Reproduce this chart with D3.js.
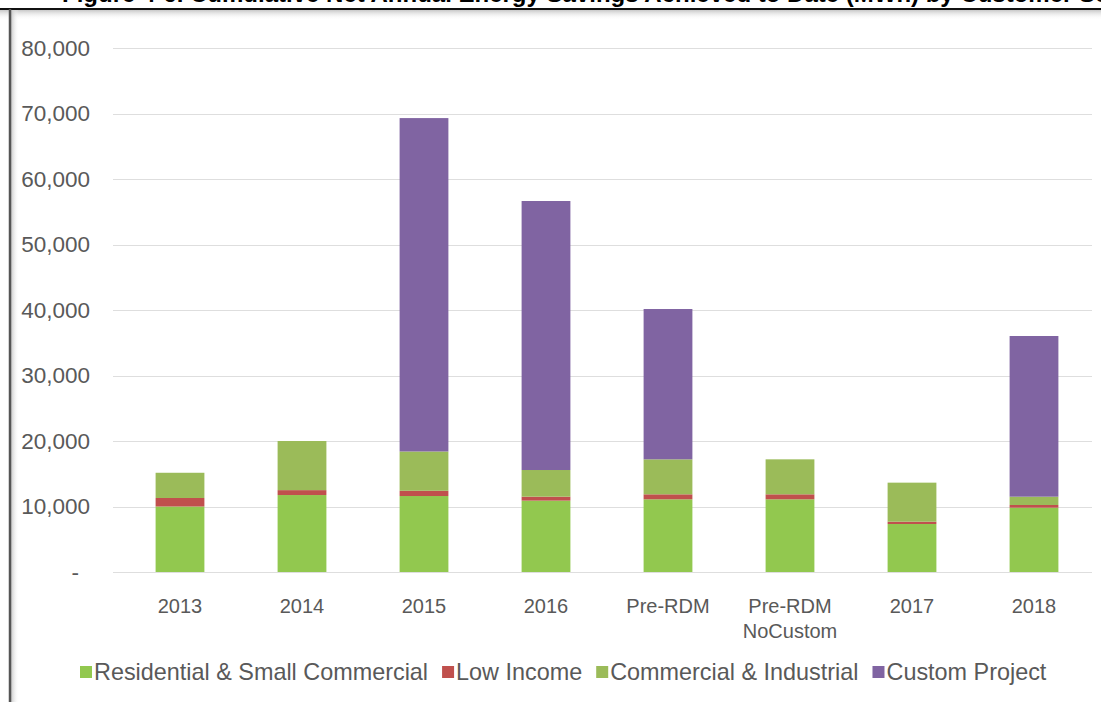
<!DOCTYPE html>
<html>
<head>
<meta charset="utf-8">
<script src="https://cdn.jsdelivr.net/npm/d3@7"></script>
<style>
  body { margin: 0; background: #fff; }
  svg { display: block; }
  text { font-family: "Liberation Sans", Arial, sans-serif; }
</style>
</head>
<body>
<div id="chart"></div>
<script>
const categories = ["2013", "2014", "2015", "2016", "Pre-RDM", "Pre-RDM NoCustom", "2017", "2018"];
const seriesNames = ["Residential & Small Commercial", "Low Income", "Commercial & Industrial", "Custom Project"];
const residential = [10000, 11750, 11600, 10900, 11100, 11100, 7330, 9820];
const lowIncome   = [1300, 750, 800, 600, 760, 760, 350, 410];
const commercial  = [3850, 7500, 6000, 4070, 5340, 5340, 5960, 1270];
const custom      = [0, 0, 50900, 41070, 22950, 0, 0, 24530];
const yTicks = [0, 10000, 20000, 30000, 40000, 50000, 60000, 70000, 80000];
const titleText = "Figure 4-6. Cumulative Net Annual Energy Savings Achieved to Date (MWh) by Customer Segment";

const colors = ["#92c84f", "#c0504d", "#9bbb59", "#8064a2"];

const width = 1101, height = 702;

const svg = d3.select("#chart").append("svg")
    .attr("width", width)
    .attr("height", height);

// frame shading
const defs = svg.append("defs");
const gTop = defs.append("linearGradient").attr("id", "shTop").attr("x1", 0).attr("y1", 0).attr("x2", 0).attr("y2", 1);
gTop.append("stop").attr("offset", "0%").attr("stop-color", "#c8c8c8");
gTop.append("stop").attr("offset", "100%").attr("stop-color", "#fff").attr("stop-opacity", 0);
const gLeft = defs.append("linearGradient").attr("id", "shLeft").attr("x1", 0).attr("y1", 0).attr("x2", 1).attr("y2", 0);
gLeft.append("stop").attr("offset", "0%").attr("stop-color", "#c8c8c8");
gLeft.append("stop").attr("offset", "100%").attr("stop-color", "#fff").attr("stop-opacity", 0);

svg.append("rect").attr("x", 0).attr("y", 10).attr("width", width).attr("height", 10).attr("fill", "url(#shTop)");
svg.append("rect").attr("x", 11).attr("y", 10).attr("width", 8).attr("height", height).attr("fill", "url(#shLeft)");

// title, cut off at the top edge like the source scan
svg.append("text")
    .attr("x", 62)
    .attr("y", 2)
    .attr("font-family", "Lato, 'Open Sans', sans-serif")
    .attr("font-weight", "bold")
    .attr("font-size", 24)
    .attr("fill", "#000")
    .text(titleText);

svg.append("line").attr("x1", 0).attr("x2", width).attr("y1", 9).attr("y2", 9)
    .attr("stroke", "#111").attr("stroke-width", 2);
svg.append("line").attr("x1", 10).attr("x2", 10).attr("y1", 9).attr("y2", height)
    .attr("stroke", "#555").attr("stroke-width", 2.5);

const x = d3.scaleBand()
    .domain(categories)
    .range([119, 1095])
    .paddingInner(0.6)
    .paddingOuter(0.3);

const y = d3.scaleLinear()
    .domain([0, 80000])
    .range([572, 48]);

// grid
svg.append("g")
    .selectAll("line")
    .data(yTicks)
    .join("line")
      .attr("x1", 113)
      .attr("x2", 1092)
      .attr("y1", d => Math.round(y(d)) + 0.5)
      .attr("y2", d => Math.round(y(d)) + 0.5)
      .attr("stroke", "#dedede")
      .attr("stroke-width", 1);

const yAxis = d3.axisLeft(y)
    .tickValues(yTicks)
    .tickSize(0)
    .tickPadding(0)
    .tickFormat(d => d === 0 ? "-" : d3.format(",")(d));

svg.append("g")
    .attr("transform", "translate(90,0)")
    .call(yAxis)
    .call(g => g.select(".domain").remove())
    .call(g => g.selectAll("text")
        .attr("font-family", "'Liberation Sans', Arial, sans-serif")
        .attr("font-size", 22.5)
        .attr("fill", "#595959")
        .attr("dx", d => d === 0 ? -11 : 0));

// stacked bars
const table = categories.map((c, i) => ({
  cat: c,
  s0: residential[i],
  s1: lowIncome[i],
  s2: commercial[i],
  s3: custom[i]
}));

const stack = d3.stack().keys(["s0", "s1", "s2", "s3"]);
const layers = stack(table);

svg.append("g")
  .selectAll("g")
  .data(layers)
  .join("g")
    .attr("fill", (d, i) => colors[i])
  .selectAll("rect")
  .data(d => d)
  .join("rect")
    .attr("x", d => x(d.data.cat))
    .attr("width", x.bandwidth())
    .attr("y", d => y(d[1]))
    .attr("height", d => y(d[0]) - y(d[1]));

// category labels
const xl = svg.append("g")
  .selectAll("text")
  .data(categories)
  .join("text")
    .attr("x", d => x(d) + x.bandwidth() / 2)
    .attr("y", 613)
    .attr("text-anchor", "middle")
    .attr("font-size", 20)
    .attr("fill", "#595959");

xl.selectAll("tspan")
  .data(d => d.split(" "))
  .join("tspan")
    .attr("x", function() { return this.parentNode.getAttribute("x"); })
    .attr("dy", (d, i) => i === 0 ? 0 : 25)
    .text(d => d);

// legend
const legend = svg.append("g");
let lx = 80;
seriesNames.forEach((name, i) => {
  legend.append("rect")
      .attr("x", lx)
      .attr("y", 666)
      .attr("width", 12)
      .attr("height", 12)
      .attr("fill", colors[i]);
  const t = legend.append("text")
      .attr("x", lx + 14)
      .attr("y", 680)
      .attr("font-size", 23.4)
      .attr("fill", "#595959")
      .text(name);
  lx += 14 + t.node().getComputedTextLength() + 14;
});
</script>
</body>
</html>
